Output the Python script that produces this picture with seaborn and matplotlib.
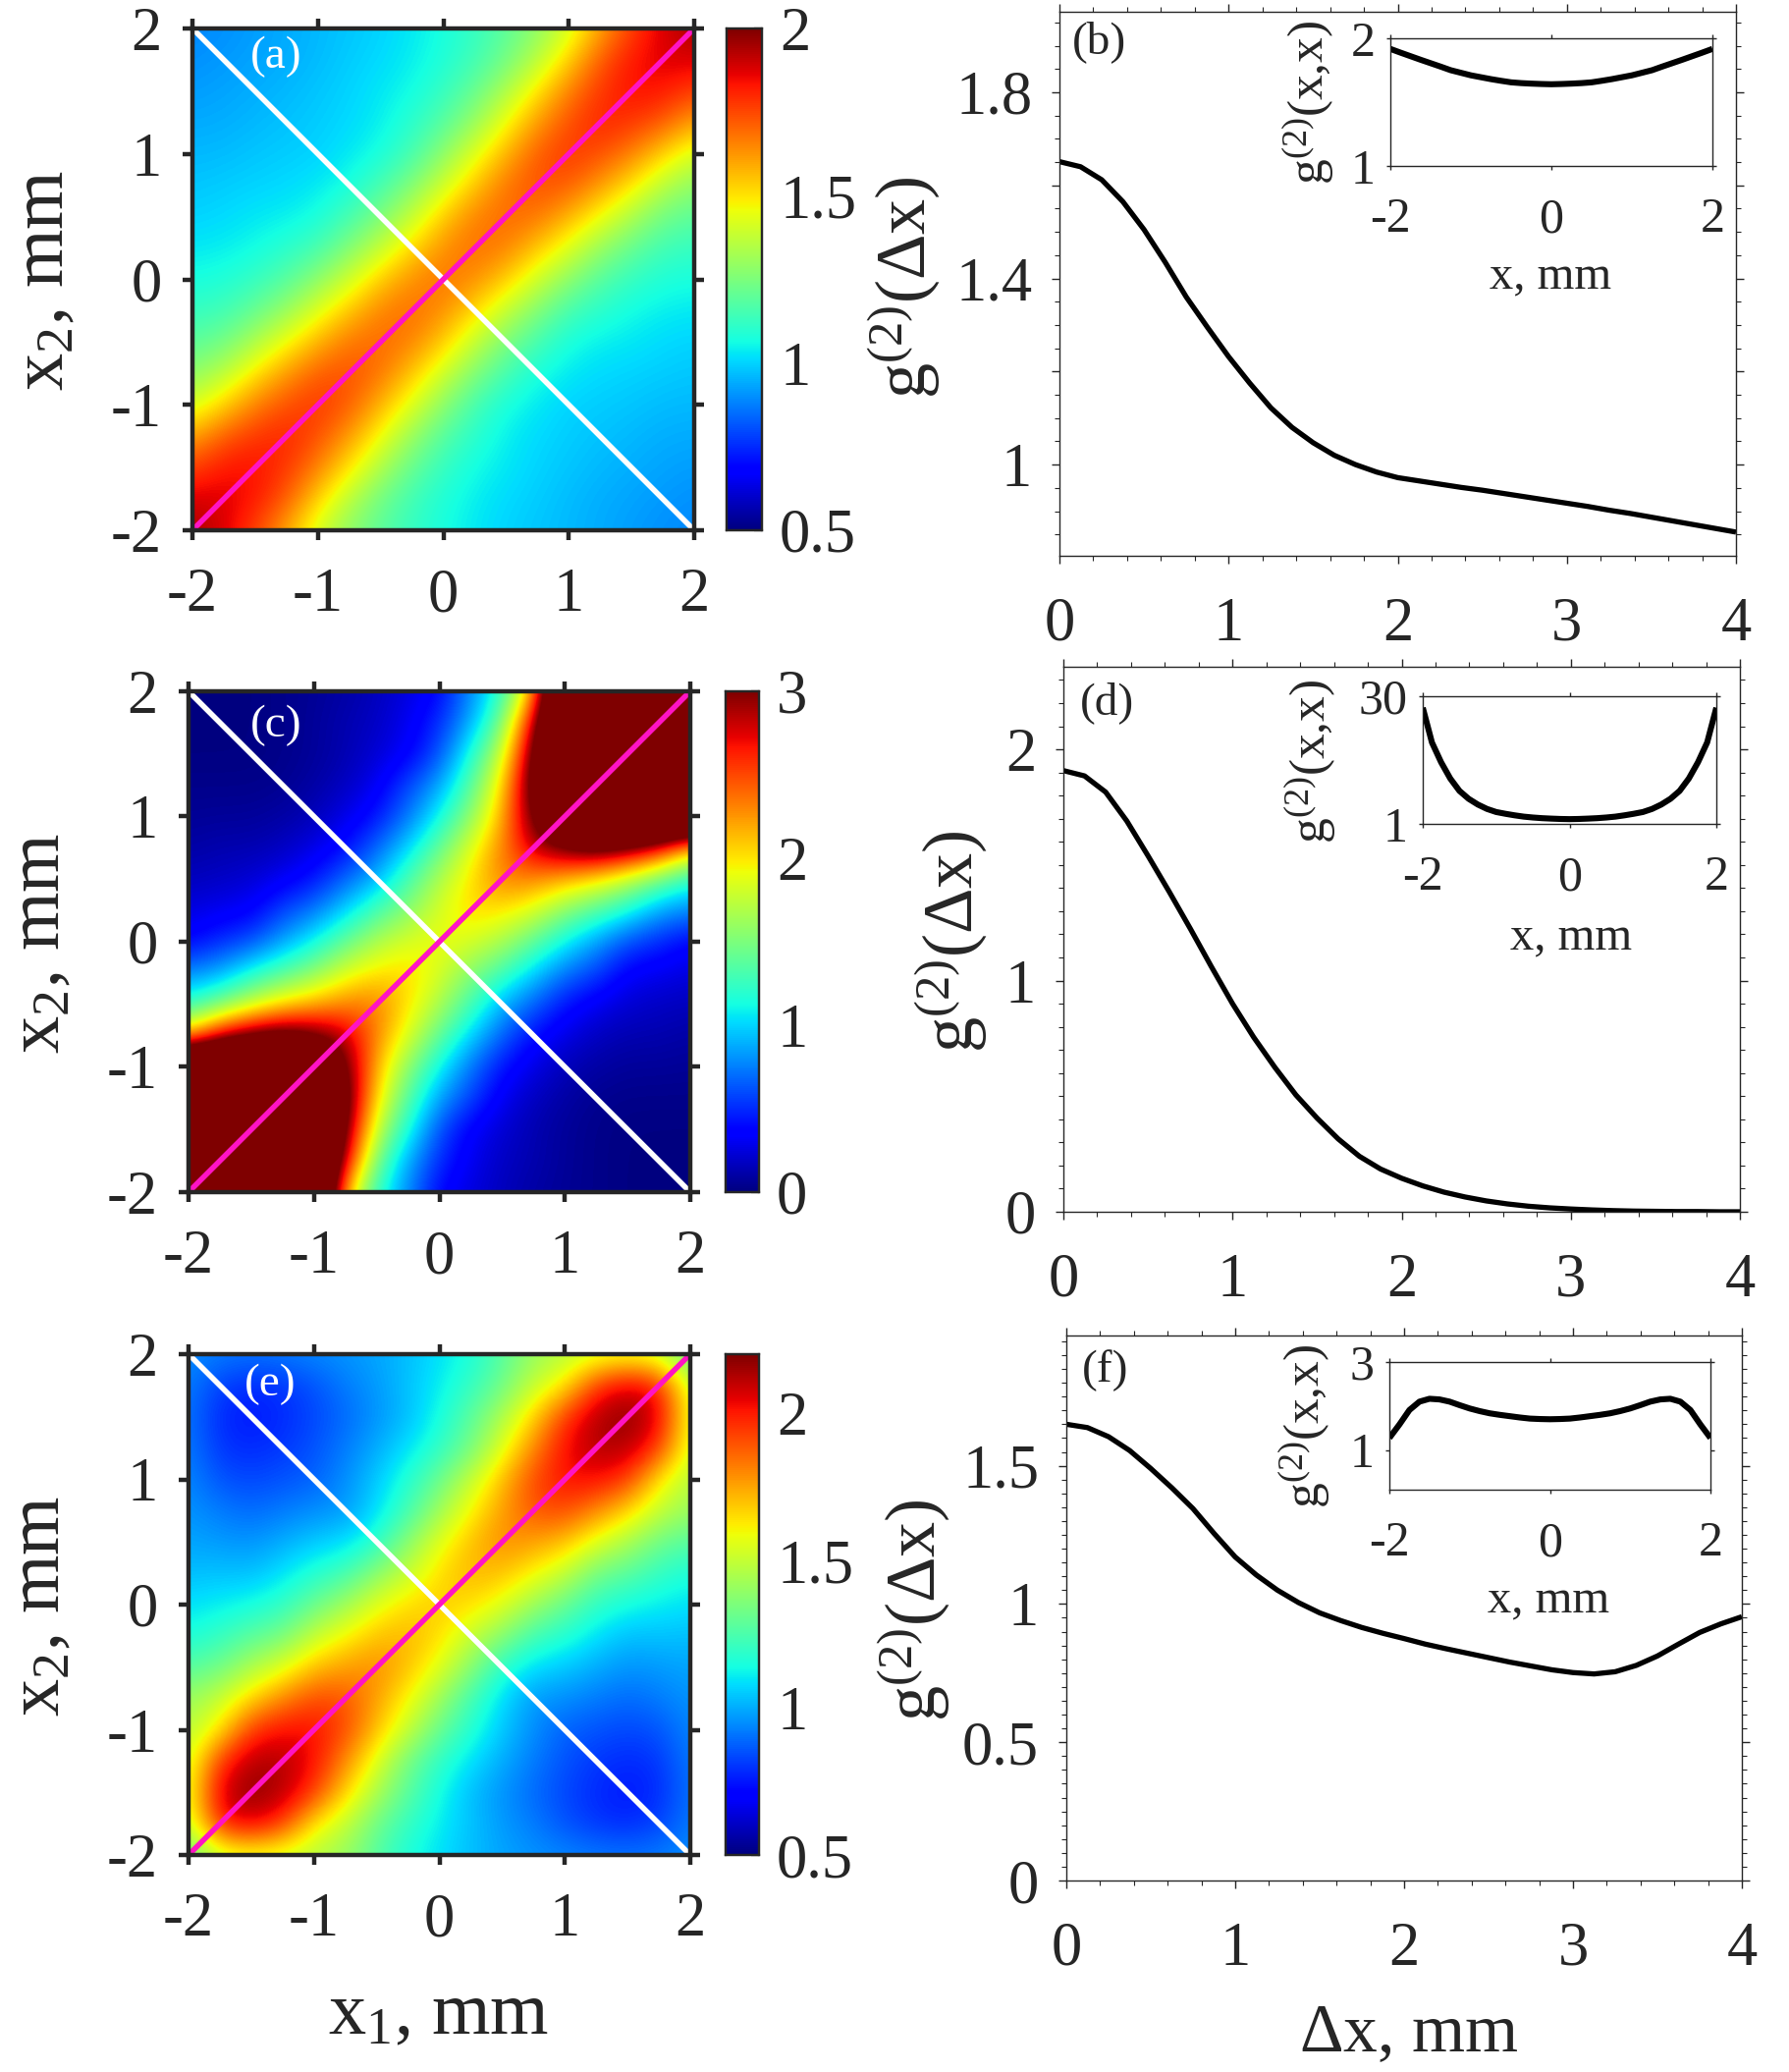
import numpy as np
import seaborn as sns
import matplotlib
matplotlib.use("Agg")
import matplotlib.pyplot as plt
from matplotlib.ticker import MultipleLocator

# upper half of each map, rows x2 = 2 ... 0, columns x1 = -2 ... 2 in 0.25 steps
# lower half is the same thing turned by 180 degrees
map_a = [
    [.89, .90, .92, .94, .96, .98, 1.00, 1.03, 1.07, 1.12, 1.19, 1.28, 1.41, 1.60, 1.76, 1.88, 1.95],
    [.90, .915, .93, .945, .965, .99, 1.01, 1.04, 1.08, 1.14, 1.23, 1.36, 1.53, 1.72, 1.83, 1.88, 1.88],
    [.92, .93, .945, .96, .98, 1.00, 1.03, 1.06, 1.12, 1.21, 1.34, 1.50, 1.66, 1.78, 1.84, 1.83, 1.76],
    [.94, .945, .96, .975, .99, 1.01, 1.04, 1.10, 1.18, 1.30, 1.46, 1.62, 1.74, 1.81, 1.78, 1.72, 1.60],
    [.96, .965, .98, .99, 1.00, 1.03, 1.07, 1.15, 1.28, 1.43, 1.58, 1.72, 1.78, 1.74, 1.66, 1.53, 1.41],
    [.98, .99, 1.00, 1.01, 1.03, 1.07, 1.15, 1.26, 1.40, 1.55, 1.68, 1.74, 1.72, 1.62, 1.50, 1.36, 1.28],
    [1.00, 1.01, 1.03, 1.04, 1.07, 1.15, 1.25, 1.38, 1.54, 1.66, 1.70, 1.68, 1.58, 1.46, 1.34, 1.23, 1.19],
    [1.03, 1.04, 1.06, 1.10, 1.15, 1.26, 1.38, 1.52, 1.64, 1.69, 1.66, 1.55, 1.43, 1.30, 1.21, 1.14, 1.12],
    [1.07, 1.08, 1.12, 1.18, 1.28, 1.40, 1.54, 1.64, 1.68, 1.64, 1.54, 1.40, 1.28, 1.18, 1.12, 1.08, 1.07],
]
map_c = [
    [0, 0, .01, .03, .06, .10, .16, .25, .36, .78, 1.2, 2.1, 5, 9, 14, 21, 27.4],
    [0, .002, .01, .03, .07, .13, .18, .30, .50, .87, 1.45, 2.75, 6, 9, 12, 15.3, 21],
    [.01, .01, .012, .03, .07, .13, .22, .33, .60, 1.15, 1.75, 3.05, 5.5, 7, 8.5, 12, 14],
    [.03, .03, .03, .046, .10, .17, .30, .58, .85, 1.35, 2.0, 3.2, 4.5, 5.4, 7, 9, 9],
    [.06, .07, .07, .10, .147, .27, .42, .72, 1.1, 1.55, 2.15, 3.1, 3.7, 4.5, 5.5, 6, 5],
    [.10, .13, .13, .17, .27, .395, .67, 1.0, 1.4, 1.85, 2.3, 2.85, 3.1, 3.2, 3.05, 2.75, 2.1],
    [.16, .18, .22, .30, .42, .67, .90, 1.3, 1.68, 2.0, 2.35, 2.3, 2.15, 2.0, 1.75, 1.45, 1.2],
    [.25, .30, .33, .58, .72, 1.0, 1.3, 1.54, 1.84, 2.05, 2.0, 1.85, 1.55, 1.35, 1.15, .87, .78],
    [.36, .50, .60, .85, 1.1, 1.4, 1.68, 1.84, 1.92, 1.84, 1.68, 1.4, 1.1, .85, .60, .50, .36],
]
map_e = [
    [.955, .92, .91, .92, .94, .96, .99, 1.03, 1.09, 1.15, 1.27, 1.41, 1.47, 1.52, 1.54, 1.50, 1.27],
    [.92, .82, .78, .80, .85, .92, .97, 1.04, 1.11, 1.20, 1.32, 1.50, 1.62, 1.95, 2.08, 2.00, 1.50],
    [.91, .78, .75, .78, .83, .89, .96, 1.03, 1.14, 1.28, 1.45, 1.66, 1.95, 2.13, 2.18, 2.08, 1.54],
    [.92, .80, .78, .805, .85, .92, 1.00, 1.09, 1.19, 1.33, 1.55, 1.80, 2.03, 2.12, 2.13, 1.95, 1.52],
    [.94, .85, .83, .85, .875, .95, 1.05, 1.17, 1.31, 1.50, 1.70, 1.92, 2.02, 2.03, 1.95, 1.62, 1.47],
    [.96, .92, .89, .92, .95, .968, 1.08, 1.23, 1.42, 1.60, 1.76, 1.90, 1.92, 1.80, 1.66, 1.50, 1.41],
    [.99, .97, .96, 1.00, 1.05, 1.08, 1.18, 1.38, 1.56, 1.70, 1.80, 1.76, 1.70, 1.55, 1.45, 1.32, 1.27],
    [1.03, 1.04, 1.03, 1.09, 1.17, 1.23, 1.38, 1.50, 1.65, 1.72, 1.70, 1.60, 1.50, 1.33, 1.28, 1.20, 1.15],
    [1.09, 1.11, 1.14, 1.19, 1.31, 1.42, 1.56, 1.65, 1.68, 1.65, 1.56, 1.42, 1.31, 1.19, 1.14, 1.11, 1.09],
]

dx = [0, .125, .25, .375, .5, .625, .75, .875, 1, 1.125, 1.25, 1.375, 1.5, 1.625, 1.75, 1.875, 2,
      2.125, 2.25, 2.375, 2.5, 2.625, 2.75, 2.875, 3, 3.125, 3.25, 3.375, 3.5, 3.625, 3.75, 3.875, 4]
curve_b = [1.651, 1.64, 1.612, 1.565, 1.505, 1.435, 1.36, 1.295, 1.232, 1.175, 1.122, 1.08, 1.047, 1.02, 1.0, .984, .972,
           .965, .958, .951, .945, .938, .931, .924, .917, .91, .902, .895, .887, .879, .871, .863, .855]
curve_d = [1.908, 1.885, 1.815, 1.69, 1.54, 1.385, 1.225, 1.06, .90, .755, .625, .505, .405, .315, .24, .185, .145,
           .112, .085, .064, .047, .034, .024, .017, .012, .008, .005, .003, .002, .001, .001, 0, 0]
curve_f = [1.65, 1.638, 1.605, 1.555, 1.49, 1.42, 1.345, 1.255, 1.17, 1.105, 1.05, 1.005, .968, .94, .915, .894, .875,
           .855, .838, .822, .806, .79, .776, .762, .752, .747, .755, .778, .812, .855, .897, .928, .954]

x_in = [-2, -1.875, -1.75, -1.625, -1.5, -1.375, -1.25, -1.125, -1, -.875, -.75, -.625, -.5, -.375, -.25, -.125, 0,
        .125, .25, .375, .5, .625, .75, .875, 1, 1.125, 1.25, 1.375, 1.5, 1.625, 1.75, 1.875, 2]
inset_b = [1.917, 1.888, 1.86, 1.832, 1.805, 1.778, 1.75, 1.73, 1.71, 1.695, 1.68, 1.667, 1.655, 1.649, 1.645, 1.642, 1.64,
           1.642, 1.645, 1.649, 1.655, 1.667, 1.68, 1.695, 1.71, 1.73, 1.75, 1.778, 1.805, 1.832, 1.86, 1.888, 1.917]
inset_d = [27.4, 19.5, 15.0, 11.3, 8.5, 6.7, 5.4, 4.4, 3.7, 3.3, 2.95, 2.65, 2.45, 2.3, 2.2, 2.12, 2.08,
           2.12, 2.2, 2.3, 2.45, 2.65, 2.95, 3.3, 3.7, 4.4, 5.4, 6.7, 8.5, 11.3, 15.0, 19.5, 27.4]
inset_f = [1.275, 1.58, 1.91, 2.10, 2.165, 2.15, 2.10, 2.02, 1.945, 1.885, 1.835, 1.80, 1.77, 1.74, 1.715, 1.705, 1.70,
           1.705, 1.715, 1.74, 1.77, 1.80, 1.835, 1.885, 1.945, 2.02, 2.10, 2.15, 2.165, 2.10, 1.91, 1.58, 1.275]

map_ticks = [-2, -1, 0, 1, 2]
dx_ticks = [0, 1, 2, 3, 4]
inset_xticks = [-2, 0, 2]

W, H = 1822, 2110
INK = "#262626"

sns.set_theme(style="ticks")
plt.rcParams["font.family"] = ["Liberation Serif", "DejaVu Serif"]
plt.rcParams["mathtext.fontset"] = "custom"
plt.rcParams["mathtext.rm"] = "Liberation Serif"
plt.rcParams["mathtext.default"] = "rm"
plt.rcParams["text.color"] = INK
plt.rcParams["xtick.color"] = INK
plt.rcParams["ytick.color"] = INK

fig = plt.figure(figsize=(W / 100, H / 100), dpi=100)


def box(left, top, right, bottom):
    return fig.add_axes([left / W, 1 - bottom / H, (right - left) / W, (bottom - top) / H])


def put(x, y, s, size, **kw):
    fig.text(x / W, 1 - y / H, s, fontsize=size, ha="center", va="center", **kw)


def draw_map(upper, vmin, vmax, rect, cbar_rect, cbar_ticks, cbar_labels):
    upper = np.array(upper)
    # anything above about 1.5 vmax is saturated anyway, clip so bicubic does not ring
    cells = np.clip(np.vstack([upper, upper[-2::-1, ::-1]]), None, vmax * 1.5)
    half = .25 / 2
    ax = box(*rect)
    cax = box(*cbar_rect)
    im = ax.imshow(cells, cmap="jet", vmin=vmin, vmax=vmax, aspect="auto", interpolation="bicubic",
                   interpolation_stage="data", extent=(-2 - half, 2 + half, -2 - half, 2 + half))
    ax.set_xlim(-2, 2)
    ax.set_ylim(-2, 2)
    ax.set_xticks(map_ticks, [str(t) for t in map_ticks])
    ax.set_yticks(map_ticks, [str(t) for t in map_ticks])
    ax.tick_params(axis="both", direction="out", length=7.5, width=3.2, labelsize=45,
                   top=True, right=True, bottom=True, left=True)
    ax.tick_params(axis="x", pad=20)
    ax.tick_params(axis="y", pad=15)
    ends = [map_ticks[0], map_ticks[-1]]
    ax.plot(ends, ends[::-1], color="white", lw=4, zorder=3)
    ax.plot(ends, ends, color="#ff14c4", lw=4, zorder=4)
    for sp in ax.spines.values():
        sp.set_linewidth(3.2)
        sp.set_color(INK)
        sp.set_zorder(6)
    fig.colorbar(im, cax=cax)
    cax.set_yticks(cbar_ticks, cbar_labels)
    cax.tick_params(axis="y", direction="in", length=6, width=1.6, labelsize=45, pad=13, right=True)
    for sp in cax.spines.values():
        sp.set_visible(True)
        sp.set_linewidth(1.6)
        sp.set_color(INK)


def draw_curve(xs, ys, rect, ylim, yticks, ylabels, xlim, xticks, size, lw, minor_x=None, minor_y=None,
               major_len=6):
    ax = box(*rect)
    sns.lineplot(x=xs, y=ys, ax=ax, color="black", lw=lw, errorbar=None, solid_capstyle="butt")
    ax.set_xlim(*xlim)
    ax.set_ylim(*ylim)
    ax.set_xticks(xticks, [str(t) for t in xticks])
    ax.set_yticks(yticks, ylabels)
    if minor_x:
        ax.xaxis.set_minor_locator(MultipleLocator(minor_x))
    if minor_y:
        ax.yaxis.set_minor_locator(MultipleLocator(minor_y))
    ax.tick_params(which="major", direction="out", length=major_len, width=1.0, labelsize=size,
                   top=True, right=True, bottom=True, left=True)
    ax.tick_params(which="minor", direction="out", length=major_len * .55, width=.8,
                   top=True, right=True, bottom=True, left=True)
    for sp in ax.spines.values():
        sp.set_visible(True)
        sp.set_linewidth(1.0)
        sp.set_color(INK)
    return ax


draw_map(map_a, .5, 2, (196, 29, 707, 540), (740, 29, 776, 540), [.5, 1, 1.5, 2], ["0.5", "1", "1.5", "2"])
draw_map(map_c, 0, 3, (192, 704, 703, 1214), (739, 704, 773, 1214), [0, 1, 2, 3], ["0", "1", "2", "3"])
draw_map(map_e, .5, 2.2, (192, 1379, 703, 1889), (739, 1379, 773, 1889), [.5, 1, 1.5, 2], ["0.5", "1", "1.5", "2"])

ax_b = draw_curve(dx, curve_b, (1079, 12, 1768, 566), (.804, 1.973), [1, 1.2, 1.4, 1.6, 1.8],
                  ["1", "", "1.4", "", "1.8"], (0, 4), dx_ticks, 45, 3.8, .2, .05)
ax_d = draw_curve(dx, curve_d, (1083, 679, 1772, 1234), (0, 2.357), [0, 1, 2], ["0", "1", "2"],
                  (0, 4), dx_ticks, 45, 3.8, .2, .1)
ax_f = draw_curve(dx, curve_f, (1086, 1360, 1774, 1915), (0, 1.971), [0, .5, 1, 1.5],
                  ["0", "0.5", "1", "1.5"], (0, 4), dx_ticks, 45, 3.8, .2, .05)
for ax in (ax_b, ax_d, ax_f):
    ax.tick_params(axis="x", which="major", pad=24)
    ax.tick_params(axis="y", which="major", pad=14)

for xs, ys, rect, ylim, yticks, ylabels in [
    (x_in, inset_b, (1416, 39, 1744, 169), (1, 2), [1, 2], ["1", "2"]),
    (x_in, inset_d, (1449, 709, 1748, 839), (1, 30), [1, 30], ["1", "30"]),
    (x_in, inset_f, (1415, 1387, 1742, 1517), (.1, 3), [1, 3], ["1", "3"]),
]:
    ins = draw_curve(xs, ys, rect, ylim, yticks, ylabels, (-2, 2), inset_xticks, 36, 4.4, major_len=3)
    ins.tick_params(axis="x", which="major", pad=20)
    ins.tick_params(axis="y", which="major", pad=8)

x2_label = "x$_{2}$, mm"
g_label = r"g$^{(2)}$($\Delta$x)"
g_inset = "g$^{(2)}$(x,x)"
put(46, 285, x2_label, 55, rotation=90)
put(42, 960, x2_label, 55, rotation=90)
put(42, 1635, x2_label, 55, rotation=90)
put(447, 2053, "x$_{1}$, mm", 55)
put(1435, 2072, r"$\Delta$x, mm", 50)
put(921, 293, g_label, 52, rotation=90)
put(969, 959, g_label, 52, rotation=90)
put(931, 1640, g_label, 52, rotation=90)
put(1333, 104, g_inset, 37, rotation=90)
put(1335, 775, g_inset, 37, rotation=90)
put(1329, 1452, g_inset, 37, rotation=90)
put(1579, 282, "x, mm", 35)
put(1600, 955, "x, mm", 35)
put(1577, 1630, "x, mm", 35)

put(281, 58, "(a)", 34, color="white")
put(281, 739, "(c)", 34, color="white")
put(275, 1410, "(e)", 34, color="white")
put(1120, 43, "(b)", 34)
put(1128, 716, "(d)", 34)
put(1126, 1396, "(f)", 34)

fig.savefig("out.png", dpi=100)
